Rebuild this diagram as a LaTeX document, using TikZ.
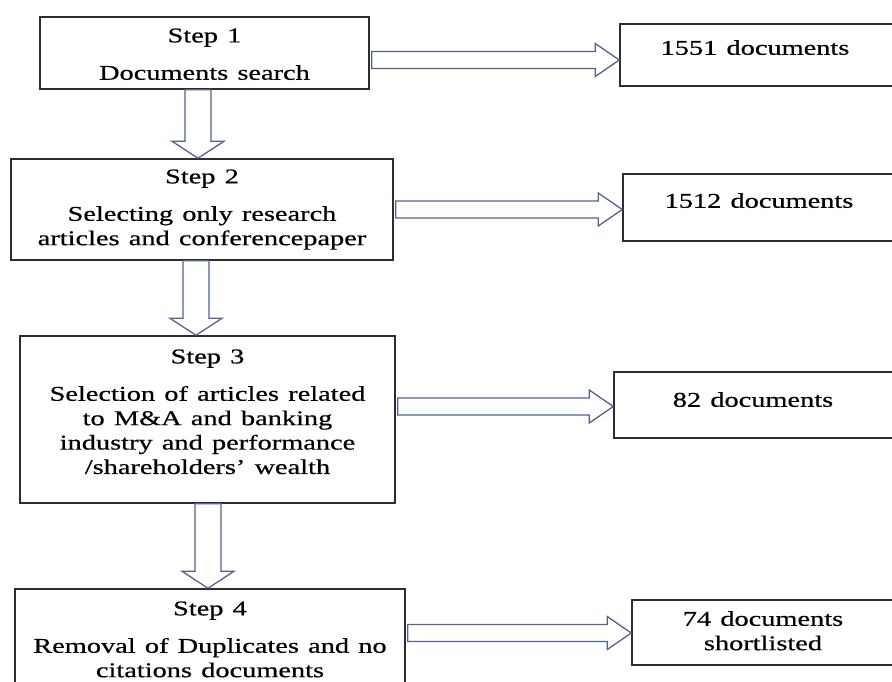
\documentclass[tikz,border=0pt]{standalone}
\usepackage{fontspec}
\setmainfont{Liberation Serif}[FakeStretch=1.35,WordSpace=1.3,FakeBold=0.6]
\usepackage{tikz}
\usetikzlibrary{positioning,calc}
\definecolor{arrowblue}{RGB}{80,100,142}
\definecolor{boxgray}{RGB}{45,45,45}

\begin{document}
\begin{tikzpicture}[x=1pt,y=-1pt,
    box/.style={draw=boxgray, line width=1.5pt, inner sep=0pt},
    txt/.style={inner sep=0pt, align=center, font=\fontsize{21}{24.4}\selectfont},
    hollow/.style={draw=arrowblue, line width=1.3pt, fill=white, line join=miter}]
    \useasboundingbox (0,0) rectangle (892,681);
    \clip (0,0) rectangle (892,681);

    % steps
    \node[box, minimum width=329pt, minimum height=72pt] (s1) at (204.5,53) {};
    \node[box, minimum width=382pt, minimum height=101pt] (s2) at (202,209.5) {};
    \node[box, minimum width=375pt, minimum height=167pt] (s3) at (207.5,419.5) {};
    \node[box, minimum width=390pt, minimum height=131pt] (s4) at (210,654.5) {};

    \node[txt, below=12pt of s1.north] (s1t) {Step 1\\[13pt]Documents search};
    \node[txt, below=11pt of s2.north] (s2t) {Step 2\\[13pt]Selecting only research\\articles and conferencepaper};
    \node[txt, below=14pt of s3.north] (s3t) {Step 3\\[13pt]Selection of articles related\\to M\&A and banking\\industry and performance\\/shareholders’ wealth};
    \node[txt, below=13pt of s4.north] (s4t) {Step 4\\[13pt]Removal of Duplicates and no\\citations documents};

    % counts
    \node[box, minimum width=300pt, minimum height=62pt] (c1) at (770,55) {};
    \node[box, minimum width=300pt, minimum height=67pt] (c2) at (773,207.5) {};
    \node[box, minimum width=300pt, minimum height=66pt] (c3) at (764,405) {};
    \node[box, minimum width=300pt, minimum height=65pt] (c4) at (782,632.5) {};

    \node[txt, anchor=north] (c1t) at (755,40) {1551 documents};
    \node[txt, anchor=north] (c2t) at (759,193) {1512 documents};
    \node[txt, anchor=north] (c3t) at (753,392) {82 documents};
    \node[txt, anchor=north] (c4t) at (763,611) {74 documents\\shortlisted};

    % block arrows to the counts
    \foreach \from/\to/\yy in {s1/c1/60, s2/c2/209.5, s3/c3/406.5, s4/c4/633}
        \draw[hollow] ($(\from.east |- 0,\yy)+(2,-8.5)$) -- ($(\to.west |- 0,\yy)+(-24,-8.5)$) -- ++(0,-8)
            -- (\to.west |- 0,\yy) -- ++(-24,16.5) -- ++(0,-8) -- ($(\from.east |- 0,\yy)+(2,8.5)$) -- cycle;

    % block arrows down the steps
    \foreach \from/\to/\xx in {s1/s2/198, s2/s3/196, s3/s4/208}
        \draw[hollow] ($(\xx,0 |- \from.south)+(-13,0)$) -- ($(\xx,0 |- \to.north)+(-13,-17)$) -- ++(-13,0)
            -- (\xx,0 |- \to.north) -- ++(26,-17) -- ++(-13,0) -- ($(\xx,0 |- \from.south)+(13,0)$) -- cycle;
\end{tikzpicture}
\end{document}
